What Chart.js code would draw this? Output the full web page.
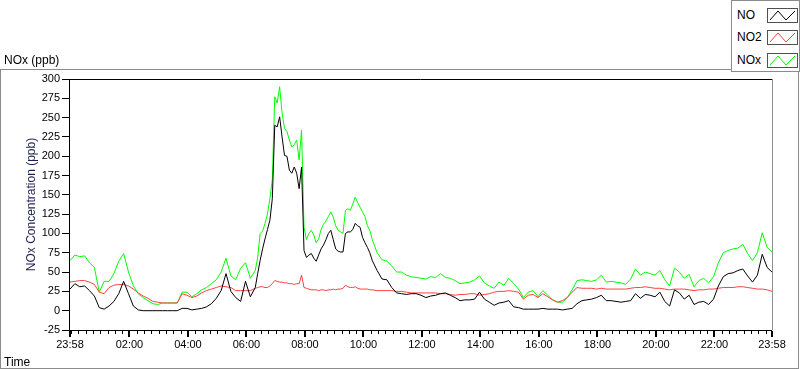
<!DOCTYPE html>
<html>
<head>
<meta charset="utf-8">
<script src="https://cdn.jsdelivr.net/npm/chart.js@4.4.0/dist/chart.umd.min.js"></script>
<style>
  html, body { margin: 0; padding: 0; background: #fff; }
  #wrap { position: relative; width: 800px; height: 369px; overflow: hidden;
          font-family: "Liberation Sans", Arial, sans-serif; color: #000; }
  #frame { position: absolute; left: 0; top: 69px; width: 799px; height: 300px;
           box-sizing: border-box; border: 1px solid #8c8c8c; }
  #c { position: absolute; left: 0; top: 0; }
  .lbl { position: absolute; font-size: 12px; line-height: 14px; white-space: nowrap; }
  #legend { position: absolute; left: 731px; top: 0; width: 69px; height: 72px;
            box-sizing: border-box; border: 1px solid #8c8c8c; background: #fff; }
  .row { position: absolute; left: 5px; width: 62px; height: 16px; }
  .row span { position: absolute; left: 0; top: 0; font-size: 12px; line-height: 16px; }
  .row svg { position: absolute; left: 30px; top: 1px; }
</style>
</head>
<body>
<div id="wrap">
  <div id="frame"></div>
  <canvas id="c" width="800" height="369"></canvas>
  <div class="lbl" style="left:4px;top:53px;">NOx (ppb)</div>
  <div class="lbl" style="left:4px;top:355px;">Time</div>
  <div id="legend"></div>
</div>
<script>
// minutes after 23:58 (start of the record)
const minutes = [
  0, 10, 20, 30, 40, 50, 60, 70, 80, 90, 100, 110, 120, 130, 140, 150, 160, 170, 180, 190,
  200, 210, 220, 230, 240, 250, 260, 270, 280, 290, 300, 310, 320, 330, 340, 350, 360, 370, 380,
  385, 390, 395, 400, 405, 410, 415, 420, 425, 430, 435, 440, 445, 450, 455, 460, 465, 470, 475, 480,
  485, 490, 495, 500, 505, 510, 515, 520, 525, 530, 535, 540, 545, 550, 555, 560, 565, 570, 575, 580,
  585, 590, 595, 600, 605, 610, 615, 620,
  630, 640, 650, 660, 670, 680, 690, 700, 710, 720, 730, 740, 750, 760, 770, 780, 790, 800,
  810, 820, 830, 840, 850, 860, 870, 880, 890, 900, 910, 920, 930, 940, 950, 960, 970, 980, 990, 1000,
  1010, 1020, 1030, 1040, 1050, 1060, 1070, 1080, 1090, 1100, 1110, 1120, 1130, 1140, 1150, 1160, 1170, 1180, 1190, 1200,
  1210, 1220, 1230, 1240, 1250, 1260, 1270, 1280, 1290, 1300, 1310, 1320, 1330, 1340, 1350, 1360, 1370, 1380, 1390, 1400,
  1410, 1420, 1430, 1440
];

const noValues = [
  28, 35, 31, 32, 26, 19, 4, 2, 6, 12, 22, 38, 22, 6, 1, 0, 0, 0, 0, 0,
  0, 0, 0, 3, 3, 1, 2, 3, 5, 9, 16, 26, 48, 25, 17, 12, 38, 18, 30,
  48, 65, 80, 93, 105, 117, 145, 240, 238, 251, 225, 201, 200, 182, 178, 186, 178, 158, 186, 78,
  69, 72, 74, 68, 64, 72, 80, 85, 92, 100, 104, 92, 80, 77, 76, 76, 100, 102, 102, 105,
  113, 110, 108, 95, 88, 82, 75, 65,
  52, 41, 40, 30, 23, 22, 21, 22, 22, 20, 17, 19, 20, 22, 23, 20, 17, 13,
  14, 14, 15, 24, 15, 11, 7, 10, 11, 13, 5, 4, 2, 2, 2, 2, 3, 2, 2, 2,
  1, 2, 3, 9, 13, 14, 15, 17, 20, 13, 13, 12, 11, 12, 13, 22, 16, 21, 20, 18,
  24, 12, 6, 27, 23, 15, 20, 8, 11, 12, 8, 15, 32, 44, 48, 49, 52, 54, 45, 37,
  46, 73, 56, 50
];

const no2Values = [
  37, 38, 39, 39, 37, 34, 24, 22, 30, 33, 34, 34, 32, 28, 23, 19, 16, 12, 11, 10,
  10, 10, 10, 22, 20, 17, 19, 23, 26, 28, 30, 32, 31, 30, 26, 26, 26, 26, 29,
  30, 31, 31, 30, 30, 32, 35, 39, 38, 37, 37, 36, 36, 35, 35, 34, 35, 35, 46, 30,
  29, 28, 27, 27, 27, 26, 27, 27, 26, 27, 27, 28, 27, 28, 28, 29, 33, 31, 30, 30,
  31, 29, 28, 28, 28, 28, 27, 27,
  26, 26, 26, 26, 25, 25, 24, 23, 23, 23, 23, 23, 23, 22, 22, 21, 20, 21,
  21, 22, 22, 20, 21, 22, 24, 25, 25, 26, 25, 24, 15, 20, 21, 17, 22, 18, 14, 11,
  13, 17, 24, 30, 29, 29, 29, 28, 29, 28, 28, 28, 28, 28, 29, 30, 30, 31, 30, 29,
  29, 28, 27, 28, 28, 28, 27, 26, 27, 27, 28, 28, 29, 30, 30, 30, 31, 31, 30, 29,
  28, 28, 27, 25
];

const noxValues = [
  65, 72, 70, 71, 62, 56, 24, 38, 38, 48, 64, 74, 50, 32, 22, 17, 13, 9, 8, 10,
  10, 10, 10, 24, 24, 18, 22, 27, 30, 35, 40, 50, 68, 45, 40, 55, 62, 42, 52,
  69, 100, 103, 113, 125, 145, 170, 277, 269, 290, 256, 236, 232, 221, 212, 215, 221, 195, 234, 108,
  92, 100, 104, 98, 88, 93, 105, 112, 116, 122, 128, 121, 110, 104, 102, 100, 130, 132, 130, 138,
  147, 140, 134, 128, 122, 110, 104, 92,
  75, 66, 64, 58, 50, 50, 46, 44, 43, 42, 41, 44, 43, 48, 43, 42, 39, 35,
  36, 37, 40, 45, 36, 32, 29, 37, 33, 42, 35, 28, 17, 24, 26, 18, 26, 20, 14, 11,
  11, 17, 27, 39, 40, 39, 38, 40, 46, 37, 38, 37, 36, 34, 41, 54, 46, 50, 48, 46,
  52, 40, 32, 55, 50, 42, 47, 31, 39, 42, 36, 44, 62, 75, 78, 80, 81, 86, 74, 65,
  75, 101, 82, 76
];

const xMajorTicks = [0, 122, 242, 362, 482, 602, 722, 842, 962, 1082, 1202, 1322, 1440];
const xTickLabels = ["23:58", "02:00", "04:00", "06:00", "08:00", "10:00", "12:00",
                     "14:00", "16:00", "18:00", "20:00", "22:00", "23:58"];
const yTicks = [-25, 0, 25, 50, 75, 100, 125, 150, 175, 200, 225, 250, 275, 300];

const seriesNames = ["NO", "NO2", "NOx"];
const seriesColors = ["#000000", "#ff4040", "#00ff00"];
const seriesValues = [noValues, no2Values, noxValues];

const FONT = "Liberation Sans";

// legend (LabVIEW style plot legend)
const legend = document.getElementById("legend");
const rowTops = [6, 28, 51];
seriesNames.forEach((name, i) => {
  const row = document.createElement("div");
  row.className = "row";
  row.style.top = rowTops[i] + "px";
  row.innerHTML = `<span>${name}</span>
    <svg width="31" height="15"><rect x="0.5" y="0.5" width="30" height="14" fill="#fff" stroke="#505050"/>
    <polyline points="3,12 11,3 19,12 28,3" fill="none" stroke="${seriesColors[i]}" stroke-width="1"/></svg>`;
  legend.appendChild(row);
});

// minor x ticks every 15 minutes from 00:00
const xMinorTicks = [];
for (let m = 2; m < 1440; m += 15) xMinorTicks.push(m);

const frameTicks = {
  id: "frameTicks",
  afterDraw(chart) {
    const { ctx, chartArea: a, scales } = chart;
    ctx.save();
    ctx.lineWidth = 1;
    ctx.strokeStyle = "#000";
    ctx.beginPath();
    ctx.moveTo(a.right, a.top + 0.5);
    ctx.lineTo(a.left - 0.5, a.top + 0.5);
    ctx.lineTo(a.left - 0.5, a.bottom + 0.5);
    ctx.lineTo(a.right, a.bottom + 0.5);
    ctx.stroke();
    ctx.strokeStyle = "#909090";
    ctx.beginPath();
    ctx.moveTo(a.right + 0.5, a.top);
    ctx.lineTo(a.right + 0.5, a.bottom);
    ctx.stroke();

    ctx.strokeStyle = "#000";
    xMinorTicks.forEach((m) => {
      const x = Math.round(scales.x.getPixelForValue(m)) + 0.5;
      ctx.beginPath();
      ctx.moveTo(x, a.bottom + 1);
      ctx.lineTo(x, a.bottom + 4);
      ctx.stroke();
    });
    ctx.lineWidth = 2;
    xMajorTicks.forEach((m) => {
      const x = Math.round(scales.x.getPixelForValue(m));
      ctx.beginPath();
      ctx.moveTo(x, a.bottom + 1);
      ctx.lineTo(x, a.bottom + 7);
      ctx.stroke();
    });
    ctx.restore();
  }
};

new Chart(document.getElementById("c"), {
  type: "line",
  data: {
    datasets: seriesNames.map((name, i) => ({
      label: name,
      data: minutes.map((m, k) => ({ x: m, y: seriesValues[i][k] })),
      borderColor: seriesColors[i],
      borderWidth: 1,
      pointRadius: 0,
      tension: 0,
      fill: false,
    })),
  },
  options: {
    responsive: false,
    animation: false,
    events: [],
    layout: { padding: { left: 0, top: 79, right: 28, bottom: 17 } },
    plugins: { legend: { display: false }, tooltip: { enabled: false } },
    scales: {
      x: {
        type: "linear",
        min: 0,
        max: 1440,
        afterBuildTicks(s) { s.ticks = xMajorTicks.map((v) => ({ value: v })); },
        afterFit(s) { s.height = 22; },
        grid: { display: false, drawTicks: false },
        border: { display: false },
        ticks: {
          autoSkip: false,
          maxRotation: 0,
          padding: 8,
          color: "#000",
          font: { family: FONT, size: 11 },
          callback: (v) => xTickLabels[xMajorTicks.indexOf(v)] ?? "",
        },
      },
      y: {
        min: -25,
        max: 300,
        afterBuildTicks(s) { s.ticks = yTicks.map((v) => ({ value: v })); },
        afterFit(s) { s.width = 70; },
        grid: { drawOnChartArea: false, tickLength: 8, tickColor: "#000", color: "#000" },
        border: { display: false },
        ticks: { padding: 2, color: "#000", font: { family: FONT, size: 11 } },
        title: {
          display: true,
          text: "NOx Concentration (ppb)",
          color: "#1c2050",
          font: { family: FONT, size: 12 },
          padding: { top: 24, bottom: 0 },
        },
      },
    },
  },
  plugins: [frameTicks],
});
</script>
</body>
</html>
